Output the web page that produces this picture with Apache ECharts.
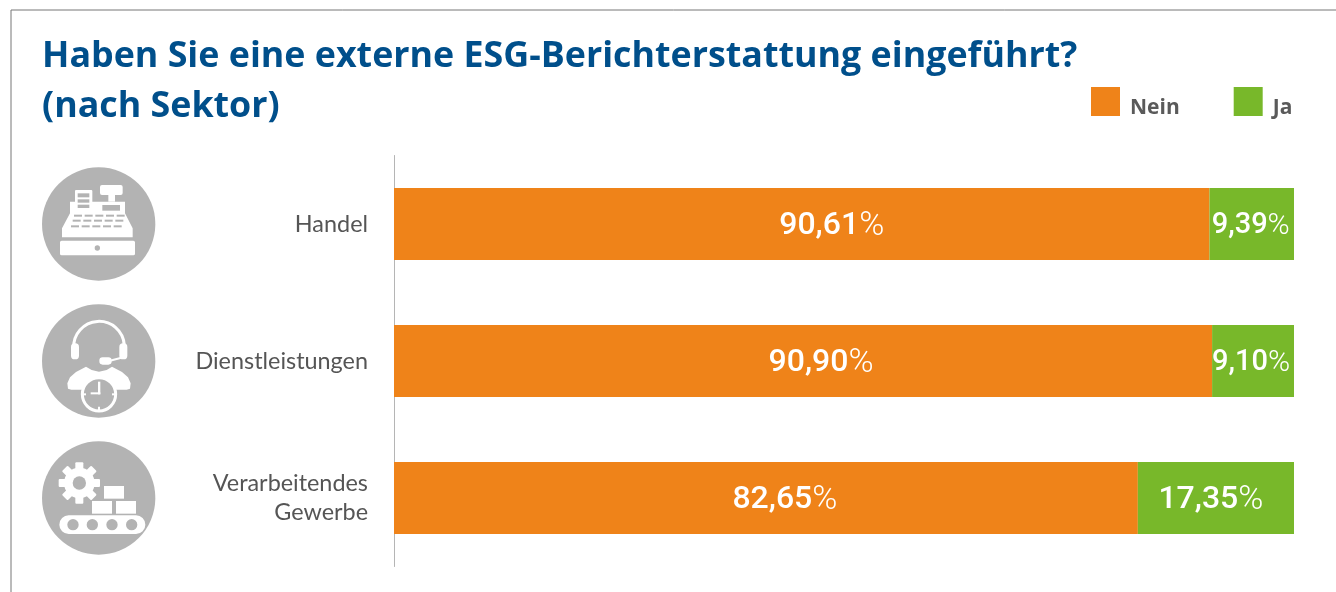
<!DOCTYPE html>
<html><head><meta charset="utf-8">
<style>html,body{margin:0;padding:0;background:#fff}#c{width:1336px;height:592px}</style>
<script src="https://cdn.jsdelivr.net/npm/echarts@6/dist/echarts.min.js"></script>
</head><body><div id="c"></div>
<script>
const categories = ['Handel', 'Dienstleistungen', 'Verarbeitendes\nGewerbe'];
const nein = [90.61, 90.90, 82.65];
const ja = [9.39, 9.10, 17.35];
const titleText = 'Haben Sie eine externe ESG-Berichterstattung eingeführt?\n(nach Sektor)';
const neinLabelShift = [30, 18, 19];
const jaLabelShift = [-1, -2, -5];

const GREY = '#b3b3b3', W = '#ffffff';
const fmt = p => {
  const k = p.value < 10 ? 's' : 'n';
  return '{' + k + '|' + p.value.toFixed(2).replace('.', ',') + '}{' + (k === 's' ? 'q' : 'p') + '|%}';
};
const labelRich = {
  n: { fontFamily: 'Roboto', fontWeight: 500, fontSize: 32, color: W },
  p: { fontFamily: 'Roboto', fontWeight: 300, fontSize: 34, color: W },
  s: { fontFamily: 'Roboto', fontWeight: 500, fontSize: 29, color: W },
  q: { fontFamily: 'Roboto', fontWeight: 300, fontSize: 30, color: W }
};
const items = (vals, shift) => vals.map((v, i) => ({ value: v, label: { offset: [shift[i], 2] } }));

/* helpers: icon decoration, in the coordinates of a 3x crop */
const r = (x0, y0, x1, y1, fill, rad) => ({ type: 'rect', shape: { x: x0 / 3, y: y0 / 3, width: (x1 - x0) / 3, height: (y1 - y0) / 3, r: (rad || 0) / 3 }, style: { fill: fill || W } });
const c = (x, y, rr, fill, stroke, lw) => ({ type: 'circle', shape: { cx: x / 3, cy: y / 3, r: rr / 3 }, style: { fill: fill || W, stroke: stroke || null, lineWidth: lw || 0 } });
const poly = (pts, fill) => ({ type: 'polygon', shape: { points: pts.map(p => [p[0] / 3, p[1] / 3]) }, style: { fill: fill || W } });
const line = (x0, y0, x1, y1, col, lw) => ({ type: 'line', shape: { x1: x0 / 3, y1: y0 / 3, x2: x1 / 3, y2: y1 / 3 }, style: { stroke: col || W, lineWidth: lw || 2, lineCap: 'round' } });

function registerIcon() {
  const e = [c(296, 222, 170, GREY)];
  e.push(r(180, 272, 405, 316, W, 5), c(292, 294, 8, GREY));
  e.push(poly([[186, 262], [186, 235], [210, 190], [210, 155], [375, 155], [375, 190], [398, 235], [398, 262]]));
  e.push(r(225, 120, 277, 183, W, 3), r(233, 130, 268, 142, GREY), r(233, 148, 268, 158, GREY), r(233, 164, 268, 174, GREY));
  e.push(r(300, 105, 368, 135, W, 6), r(325, 135, 345, 155), r(307, 165, 360, 182, GREY));
  [[197, 222], [212, 218], [229, 213]].forEach(([y, x0]) => {
    for (let i = 0; i < 5; i++) e.push(r(x0 + i * 32, y - 3, x0 + i * 32 + 24, y + 3, GREY));
  });
  return { type: 'group', x: 0, y: 150, children: e };
}
function headsetIcon() {
  const e = [c(296, 633, 170, GREY)];
  e.push({ type: 'arc', shape: { cx: 297 / 3, cy: 590 / 3, r: 76 / 3, startAngle: Math.PI * 0.98, endAngle: Math.PI * 2.02 }, style: { stroke: W, lineWidth: 3, fill: null } });
  e.push(r(213, 580, 237, 628, W, 11), r(358, 580, 382, 628, W, 11));
  e.push(line(370, 622, 330, 632, W, 2), r(298, 622, 335, 644, W, 10));
  e.push(poly([[204, 716], [202, 700], [210, 682], [228, 666], [258, 650], [275, 660], [297, 665], [320, 660], [336, 650], [366, 666], [384, 682], [392, 700], [390, 716], [380, 719], [214, 719]]));
  e.push(c(297, 733, 50, GREY, W, 3));
  e.push(r(294, 695, 301, 733), r(272, 727, 301, 733));
  e.push(r(294, 770, 300, 782), r(246, 730, 258, 736), r(336, 730, 348, 736));
  return { type: 'group', x: 0, y: 150, children: e };
}
function factoryIcon() {
  const e = [c(296, 234, 170, GREY)];
  const gx = 238, gy = 189;
  for (let i = 0; i < 4; i++) {
    const a = i * Math.PI / 4;
    e.push({ type: 'rect', x: gx / 3, y: gy / 3, rotation: a, shape: { x: -12 / 3, y: -62 / 3, width: 24 / 3, height: 124 / 3, r: 1 }, style: { fill: W } });
  }
  e.push(c(gx, gy, 46, W), c(gx, gy, 20, GREY));
  e.push(r(312, 198, 372, 236), r(276, 243, 336, 281), r(348, 243, 408, 281));
  e.push(r(178, 286, 436, 342, W, 28));
  [219, 277, 336, 395].forEach(x => e.push(c(x, 314, 17, GREY)));
  return { type: 'group', x: 0, y: 420, children: e };
}

const chart = echarts.init(document.getElementById('c'), null, { renderer: 'canvas' });
chart.setOption({
  animation: false,
  backgroundColor: '#fff',
  title: { text: titleText, left: 37, top: 27, textStyle: { fontFamily: 'Open Sans', fontWeight: 700, fontSize: 35.8, lineHeight: 50, color: '#004f8b' } },
  legend: {
    left: 1086, top: 82, itemWidth: 29, itemHeight: 29, itemGap: 54, icon: 'rect',
    data: ['Nein', 'Ja'],
    formatter: '{a|{name}}',
    textStyle: { rich: { a: { fontFamily: 'Open Sans', fontWeight: 700, fontSize: 21, color: '#5a5a5a', padding: [14, 0, 0, 5] } } }
  },
  grid: { left: 394, right: 42, top: 155.5, height: 411 },
  xAxis: { type: 'value', min: 0, max: 100, show: false },
  yAxis: {
    type: 'category', inverse: true, data: categories,
    axisLine: { show: true, lineStyle: { color: '#b5b5b5', width: 1 } },
    axisTick: { show: false },
    axisLabel: { margin: 26, align: 'right', fontFamily: 'Lato', fontSize: 23.4, lineHeight: 29, color: '#555555' }
  },
  series: [
    { name: 'Nein', type: 'bar', stack: 't', barWidth: 72, data: items(nein, neinLabelShift), itemStyle: { color: '#ef8319' },
      label: { show: true, position: 'inside', formatter: fmt, rich: labelRich } },
    { name: 'Ja', type: 'bar', stack: 't', barWidth: 72, data: items(ja, jaLabelShift), itemStyle: { color: '#78b82a' },
      label: { show: true, position: 'inside', formatter: fmt, rich: labelRich } }
  ],
  graphic: [
    { type: 'line', shape: { x1: 11, y1: 10, x2: 1336, y2: 10 }, style: { stroke: '#777', lineWidth: 1 }, silent: true },
    { type: 'line', shape: { x1: 11, y1: 10, x2: 11, y2: 592 }, style: { stroke: '#777', lineWidth: 1 }, silent: true },
    registerIcon(), headsetIcon(), factoryIcon()
  ]
});
</script></body></html>
